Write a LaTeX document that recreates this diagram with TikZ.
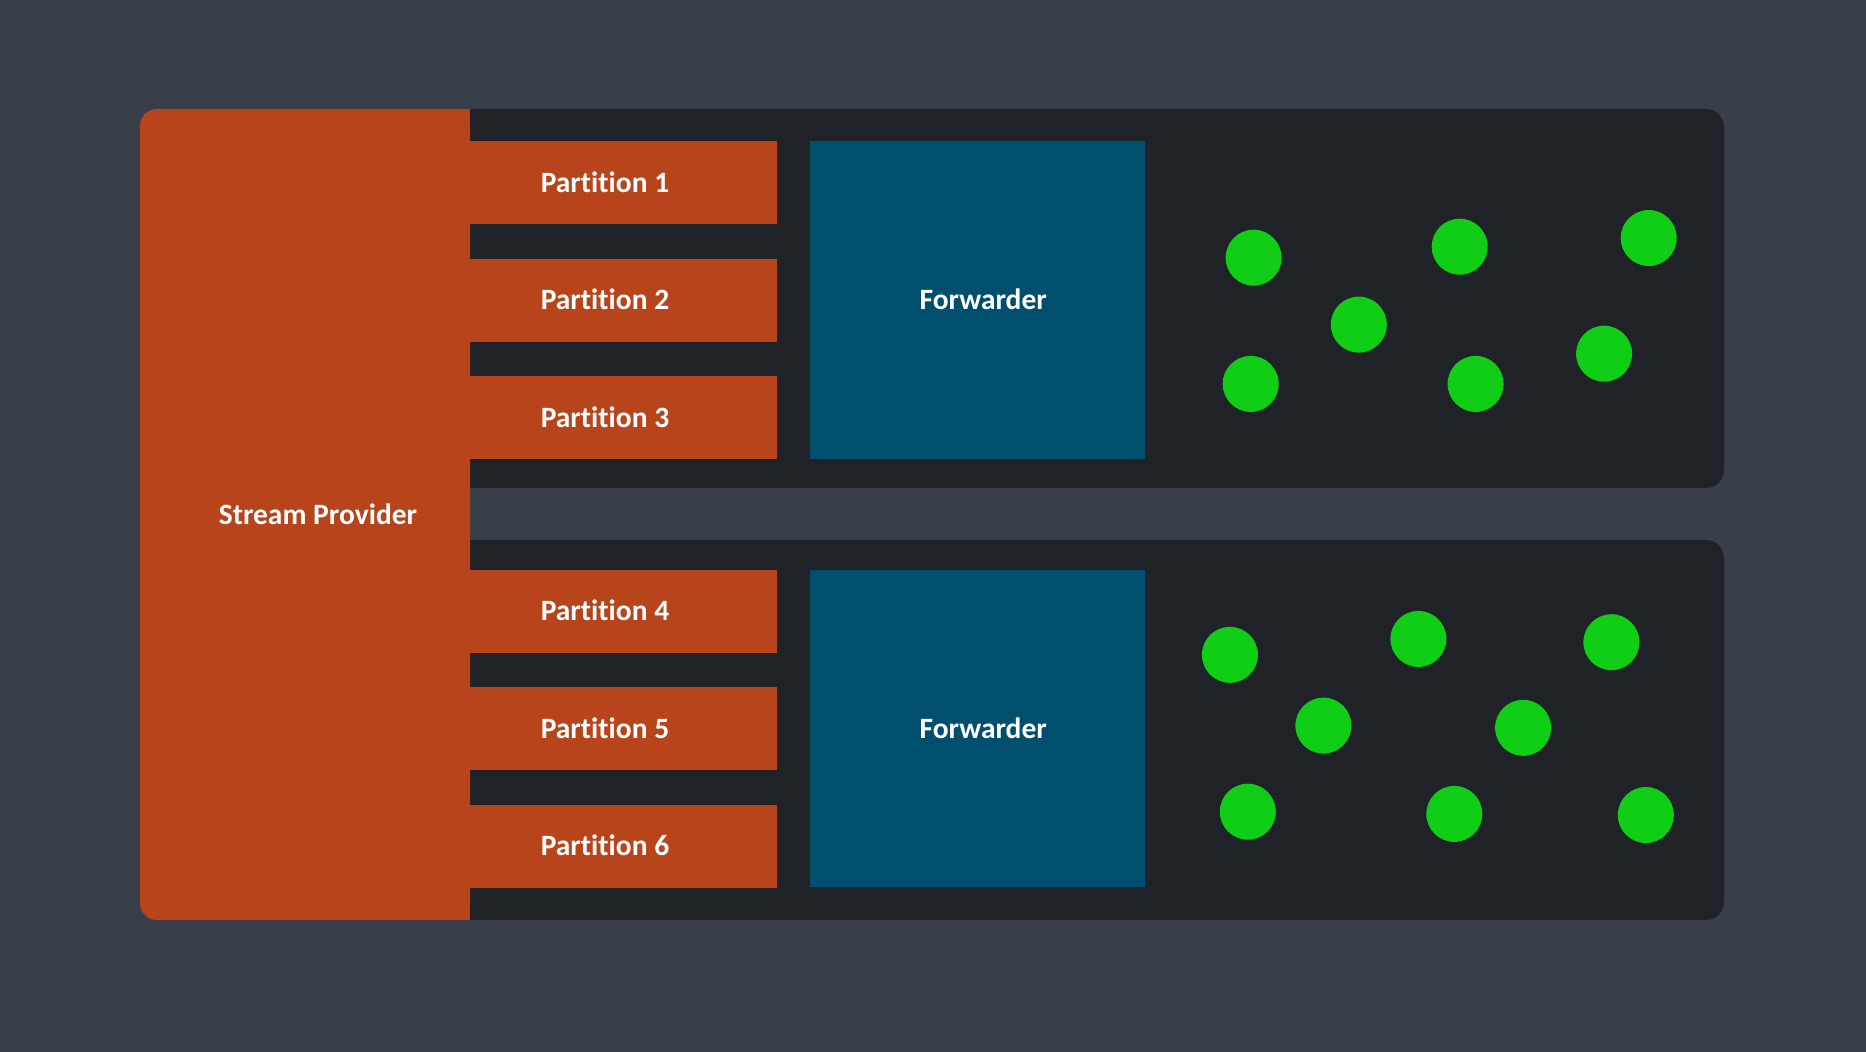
\documentclass[tikz,border=0pt]{standalone}
\usepackage{fontspec}
\setmainfont{Carlito}[Ligatures=NoCommon]
\definecolor{bgC}{HTML}{383F4A}
\definecolor{orangeC}{HTML}{B7441A}
\definecolor{panelC}{HTML}{1F2328}
\definecolor{blueC}{HTML}{004F6F}
\definecolor{greenC}{HTML}{10CE16}
\begin{document}
\begin{tikzpicture}[x=1pt,y=-1pt,
  partbox/.style={fill=orangeC, draw=none, inner sep=0pt, minimum width=307pt, minimum height=83pt},
  fwdbox/.style={fill=blueC, draw=none, inner sep=0pt, minimum width=334.5pt, minimum height=317.5pt},
  dot/.style={circle, fill=greenC, draw=none, inner sep=0pt, minimum size=56pt},
  lbl/.style={text=white, inner sep=0pt, text height=19.5pt, text depth=0pt, font=\bfseries\fontsize{29.5}{30}\selectfont}]
\fill[bgC] (0,0) rectangle (1866,1052);
\useasboundingbox (0,0) rectangle (1866,1052);
% dark panels
\fill[panelC, rounded corners=18pt] (440,109) rectangle (1724,488);
\fill[panelC, rounded corners=18pt] (440,540) rectangle (1724,920);
% stream provider block
\fill[orangeC, rounded corners=17pt] (140,109) rectangle (470,920);
\fill[orangeC] (300,109) rectangle (470,920);
\node[lbl] (sp) at (318,514.5) {Stream Provider};
% partitions
\node[partbox] (p1) at (623.5,182.5) {};
\node[partbox] (p2) at (623.5,300) {};
\node[partbox] (p3) at (623.5,417.8) {};
\node[partbox] (p4) at (623.5,611) {};
\node[partbox] (p5) at (623.5,728.5) {};
\node[partbox] (p6) at (623.5,846) {};
\node[lbl] (l1) at ([xshift=-18.5pt]p1.center) {Partition 1};
\node[lbl] (l2) at ([xshift=-18.5pt]p2.center) {Partition 2};
\node[lbl] (l3) at ([xshift=-18.5pt]p3.center) {Partition 3};
\node[lbl] (l4) at ([xshift=-18.5pt]p4.center) {Partition 4};
\node[lbl] (l5) at ([xshift=-18.5pt]p5.center) {Partition 5};
\node[lbl] (l6) at ([xshift=-18.5pt]p6.center) {Partition 6};
% forwarders
\node[fwdbox] (f1) at (977.25,299.75) {};
\node[fwdbox] (f2) at (977.25,728.5) {};
\node[lbl] (fl1) at ([xshift=6pt]f1.center) {Forwarder};
\node[lbl] (fl2) at ([xshift=6pt]f2.center) {Forwarder};
% consumers top
\node[dot] (c1) at (1253.6,257.7) {};
\node[dot] (c2) at (1459.7,246.7) {};
\node[dot] (c3) at (1648.7,238) {};
\node[dot] (c4) at (1358.8,324.6) {};
\node[dot] (c5) at (1250.7,383.9) {};
\node[dot] (c6) at (1475.6,383.9) {};
\node[dot] (c7) at (1604.1,353.7) {};
% consumers bottom
\node[dot] (c8) at (1229.9,654.8) {};
\node[dot] (c9) at (1418.4,638.9) {};
\node[dot] (c10) at (1611.4,642.2) {};
\node[dot] (c11) at (1323.4,725.6) {};
\node[dot] (c12) at (1523.1,727.8) {};
\node[dot] (c13) at (1247.8,811.7) {};
\node[dot] (c14) at (1454.3,813.9) {};
\node[dot] (c15) at (1645.8,815) {};
\end{tikzpicture}
\end{document}
